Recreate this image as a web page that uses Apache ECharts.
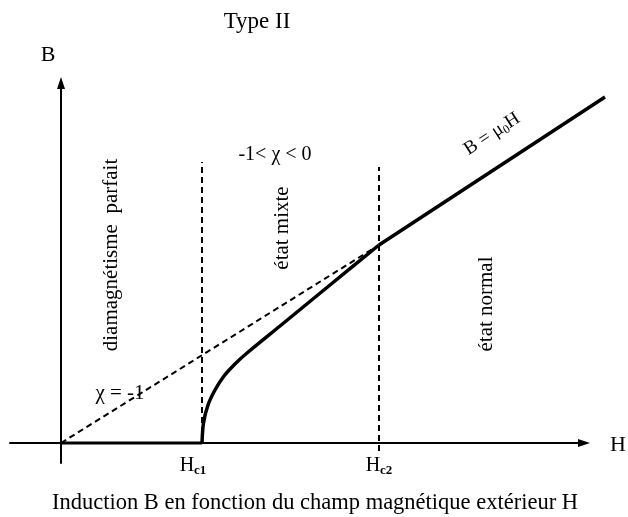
<!DOCTYPE html>
<html>
<head>
<meta charset="utf-8">
<script src="https://cdn.jsdelivr.net/npm/echarts@6/dist/echarts.min.js"></script>
<style>html,body{margin:0;padding:0;background:#fff;}#main{width:628px;height:517px;}</style>
</head>
<body>
<div id="main"></div>
<script>
// Schematic B(H) curve of a type II superconductor (arbitrary units)
const Hc1 = 14.1;
const Hc2 = 31.8;
// perfect diamagnetism: B = 0 up to Hc1
const meissnerH = [0, 14.1];
const meissnerB = [0, 0];
// mixed state between Hc1 and Hc2
const mixedH = [14.1, 14.25, 14.7, 15.4, 16.3, 17.4, 18.6, 21.9, 26.9, 31.8];
const mixedB = [0, 2.0, 3.8, 5.3, 6.7, 7.9, 9.0, 11.7, 15.8, 19.8];
// normal state B = mu0 H above Hc2
const normalH = [31.8, 54.4];
const normalB = [19.8, 34.6];
// dashed reference line chi = -1 (B = mu0 H extended)
const refH = [0, 31.8];
const refB = [0, 19.8];
// dashed vertical guides at Hc1 and Hc2
const hc1GuideB = [0, 28.1];
const hc2GuideB = [-0.8, 27.6];

const zip = (xs, ys) => xs.map((x, i) => [x, ys[i]]);
const serif = '"Liberation Serif", "Times New Roman", serif';

const chart = echarts.init(document.getElementById('main'));
const baseLine = { type: 'line', symbol: 'none', clip: false, silent: true, animation: false, xAxisIndex: 1, yAxisIndex: 1 };
const hiddenAxis = { show: false, axisLine: { show: false }, axisTick: { show: false }, axisLabel: { show: false }, splitLine: { show: false } };
const arrowLine = { onZero: true, lineStyle: { color: '#000', width: 2 }, symbol: ['none', 'triangle'], symbolSize: [8, 12] };

chart.setOption({
  backgroundColor: '#fff',
  animation: false,
  grid: [
    { left: 10, right: 44, top: 83, bottom: 54 },
    { left: 10, right: 8, top: 83, bottom: 54 }
  ],
  xAxis: [
    { type: 'value', gridIndex: 0, min: -5.1, max: 52.3, axisLine: arrowLine,
      axisTick: { show: false }, axisLabel: { show: false }, splitLine: { show: false } },
    Object.assign({ type: 'value', gridIndex: 1, min: -5.1, max: 55.9 }, hiddenAxis)
  ],
  yAxis: [
    { type: 'value', gridIndex: 0, min: -2.0, max: 36.0, axisLine: arrowLine,
      axisTick: { show: false }, axisLabel: { show: false }, splitLine: { show: false } },
    Object.assign({ type: 'value', gridIndex: 1, min: -2.0, max: 36.0 }, hiddenAxis)
  ],
  series: [
    Object.assign({}, baseLine, { name: 'chi=-1', data: zip(refH, refB), lineStyle: { color: '#000', width: 2, type: [6, 4] } }),
    Object.assign({}, baseLine, { name: 'Hc1', data: zip([Hc1, Hc1], hc1GuideB), lineStyle: { color: '#000', width: 2, type: [6, 4] } }),
    Object.assign({}, baseLine, { name: 'Hc2', data: zip([Hc2, Hc2], hc2GuideB), lineStyle: { color: '#000', width: 2, type: [6, 4] } }),
    Object.assign({}, baseLine, { name: 'meissner', data: zip(meissnerH, meissnerB), lineStyle: { color: '#000', width: 3 } }),
    Object.assign({}, baseLine, { name: 'mixed', data: zip(mixedH, mixedB), smooth: 0.3, lineStyle: { color: '#000', width: 3.5 } }),
    Object.assign({}, baseLine, { name: 'normal', data: zip(normalH, normalB), lineStyle: { color: '#000', width: 3.5 } })
  ],
  graphic: [
    { type: 'text', x: 257, y: 22, style: { text: 'Type II', font: '23px ' + serif, fill: '#000', align: 'center', verticalAlign: 'middle' } },
    { type: 'text', x: 48, y: 55, style: { text: 'B', font: '22px ' + serif, fill: '#000', align: 'center', verticalAlign: 'middle' } },
    { type: 'text', x: 618, y: 445, style: { text: 'H', font: '22px ' + serif, fill: '#000', align: 'center', verticalAlign: 'middle' } },
    { type: 'text', x: 193, y: 466, style: { text: '{m|H}{s|c1}', align: 'center', verticalAlign: 'middle',
        rich: { m: { font: '20px ' + serif, fill: '#000' }, s: { font: 'bold 13px ' + serif, fill: '#000', verticalAlign: 'bottom', padding: [9, 0, 0, 0] } } } },
    { type: 'text', x: 379, y: 466, style: { text: '{m|H}{s|c2}', align: 'center', verticalAlign: 'middle',
        rich: { m: { font: '20px ' + serif, fill: '#000' }, s: { font: 'bold 13px ' + serif, fill: '#000', verticalAlign: 'bottom', padding: [9, 0, 0, 0] } } } },
    { type: 'text', x: 315, y: 503, style: { text: 'Induction B en fonction du champ magnétique extérieur H', font: '22.5px ' + serif, fill: '#000', align: 'center', verticalAlign: 'middle' } },
    { type: 'text', x: 111, y: 255, rotation: Math.PI / 2, style: { text: 'diamagnétisme  parfait', font: '21px ' + serif, fill: '#000', align: 'center', verticalAlign: 'middle' } },
    { type: 'text', x: 282, y: 228, rotation: Math.PI / 2, style: { text: 'état mixte', font: '21px ' + serif, fill: '#000', align: 'center', verticalAlign: 'middle' } },
    { type: 'text', x: 486, y: 304, rotation: Math.PI / 2, style: { text: 'état normal', font: '21px ' + serif, fill: '#000', align: 'center', verticalAlign: 'middle' } },
    { type: 'text', x: 275, y: 155, style: { text: '-1< χ < 0', font: '20px ' + serif, fill: '#000', align: 'center', verticalAlign: 'middle' } },
    { type: 'text', x: 120, y: 393, style: { text: 'χ = -1', font: '21px ' + serif, fill: '#000', align: 'center', verticalAlign: 'middle' } },
    { type: 'text', x: 492, y: 134, rotation: 33 * Math.PI / 180, style: { text: '{m|B = μ}{s|0}{m|H}', align: 'center', verticalAlign: 'middle',
        rich: { m: { font: '19px ' + serif, fill: '#000' }, s: { font: '12px ' + serif, fill: '#000', padding: [9, 0, 0, 0] } } } }
  ]
});
</script>
</body>
</html>
